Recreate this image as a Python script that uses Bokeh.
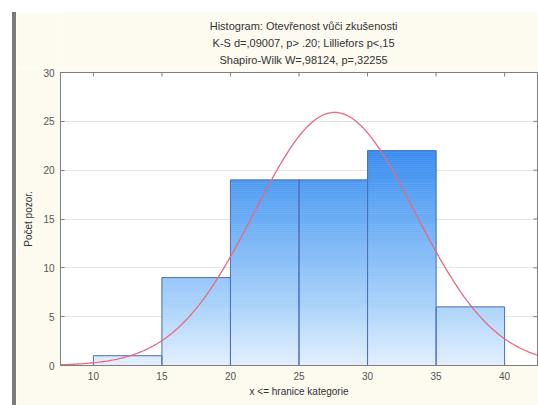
import numpy as np
from bokeh.plotting import figure
from bokeh.models import Range1d, FixedTicker, Spacer
from bokeh.core.properties import value
from bokeh.layouts import row, column
from bokeh.embed import file_html
from bokeh.resources import INLINE

# ---- data ----
bin_left = [10, 15, 20, 25, 30, 35]
bin_right = [15, 20, 25, 30, 35, 40]
counts = [1, 9, 19, 19, 22, 6]
x_ticks = [10, 15, 20, 25, 30, 35, 40]
y_ticks = [0, 5, 10, 15, 20, 25, 30]
# fitted normal curve parameters
fit_mean = 27.6
fit_sd = 5.85
bin_width = 5
title_lines = [
    "Histogram: Otevřenost vůči zkušenosti",
    "K-S d=,09007, p> .20; Lilliefors p<,15",
    "Shapiro-Wilk W=,98124, p=,32255",
]

FONT = "Liberation Sans"
CREAM = "#fdfaf0"
X0, X1 = 7.6, 42.4
Y0, Y1 = 0, 30

# ---- title strip (its own small canvas) ----
tf = figure(width=522, height=56, x_range=Range1d(0, 522), y_range=Range1d(0, 56),
            output_backend="svg", toolbar_location=None, title=None,
            x_axis_type=None, y_axis_type=None, min_border=0,
            border_fill_color=CREAM, background_fill_color=CREAM, outline_line_color=None)
tf.xgrid.grid_line_color = None
tf.ygrid.grid_line_color = None
tf.text(x=[266, 266, 266], y=[43, 26, 9], text=title_lines, text_align="center",
        text_baseline="middle", text_font=value(FONT), text_font_size="11px",
        text_color="#333333")

# ---- main plot ----
p = figure(width=522, height=337, x_range=Range1d(X0, X1), y_range=Range1d(Y0, Y1),
           output_backend="svg", toolbar_location=None, title=None,
           min_border_left=44, min_border_right=1, min_border_top=4, min_border_bottom=40,
           border_fill_color=CREAM, background_fill_color="white",
           outline_line_color="#7f7f7f", outline_line_width=1)

# gradient bars (colour depends on absolute y)
stop_y = [0, 6, 15, 22, 30]
stop_r = [228, 172, 108, 58, 40]
stop_g = [241, 212, 174, 142, 125]
stop_b = [255, 251, 246, 240, 235]
step = 0.2
L, R, B, T, C = [], [], [], [], []
for l, r, h in zip(bin_left, bin_right, counts):
    n = int(np.ceil(h / step))
    for k in range(n):
        b = k * step
        t = min((k + 1) * step, h)
        ym = (b + t) / 2
        col = "#%02x%02x%02x" % (int(np.interp(ym, stop_y, stop_r)),
                                 int(np.interp(ym, stop_y, stop_g)),
                                 int(np.interp(ym, stop_y, stop_b)))
        L.append(l); R.append(r); B.append(b); T.append(t); C.append(col)
p.quad(left=L, right=R, bottom=B, top=T, fill_color=C, line_color=C, line_width=0.6)
p.quad(left=bin_left, right=bin_right, bottom=0, top=counts,
       fill_alpha=0, line_color="#4f6fb8", line_width=1)

# normal curve
n_total = sum(counts)
xs = np.linspace(X0, X1, 300)
ys = n_total * bin_width / (fit_sd * np.sqrt(2 * np.pi)) * np.exp(-0.5 * ((xs - fit_mean) / fit_sd) ** 2)
p.line(xs, ys, line_color="#e8687e", line_width=1.3)

# inward ticks on the top and right frame edges (half of each dash is clipped away)
p.scatter(x=x_ticks, y=[Y1] * len(x_ticks), marker="dash", angle=np.pi / 2, size=8,
          line_color="#7f7f7f", line_width=1)
p.scatter(x=[X1] * len(y_ticks), y=y_ticks, marker="dash", size=8,
          line_color="#7f7f7f", line_width=1)

# axes
p.xaxis.ticker = FixedTicker(ticks=x_ticks)
p.yaxis.ticker = FixedTicker(ticks=y_ticks)
for ax in (p.xaxis[0], p.yaxis[0]):
    ax.axis_line_color = "#7f7f7f"
    ax.major_tick_line_color = "#7f7f7f"
    ax.minor_tick_line_color = None
    ax.major_label_text_font = FONT
    ax.major_label_text_font_size = "10px"
    ax.major_label_text_color = "#555555"
    ax.axis_label_text_font = FONT
    ax.axis_label_text_font_size = "10px"
    ax.axis_label_text_font_style = "normal"
    ax.axis_label_text_color = "#333333"
p.xaxis.major_tick_in = 0
p.xaxis.major_tick_out = 0
p.xaxis.major_label_standoff = 6
p.xaxis.axis_label = "x <= hranice kategorie"
p.xaxis.axis_label_standoff = 3
p.yaxis.major_tick_in = 4
p.yaxis.major_tick_out = 0
p.yaxis.major_label_standoff = 6
p.yaxis.axis_label = "Počet pozor."
p.yaxis.axis_label_standoff = 6

p.xgrid.grid_line_color = None
p.ygrid.grid_line_color = "#e6e6e6"

top = Spacer(width=538, height=12, styles={"background-color": "white"})
lw = Spacer(width=12, height=393, styles={"background-color": "white"})
bar = Spacer(width=4, height=393, styles={"background-color": "#7a7a7a"})
layout = column(top, row(lw, bar, column(tf, p, spacing=0), spacing=0), spacing=0)

open("out.html", "w").write(file_html(layout, INLINE))
